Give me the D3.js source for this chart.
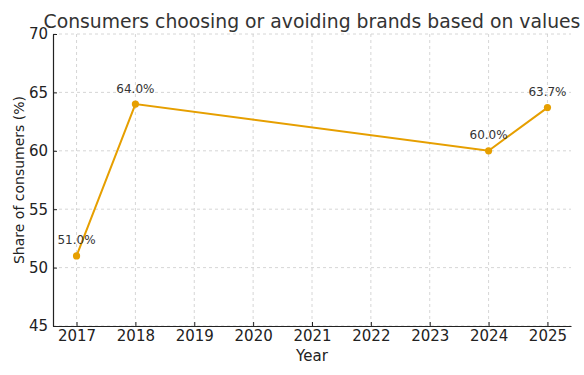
<!DOCTYPE html>
<html><head><meta charset="utf-8">
<script src="https://cdn.jsdelivr.net/npm/d3@7"></script>
<style>body{margin:0;background:#fff}svg{display:block}text{font-family:"DejaVu Sans",sans-serif}</style>
</head><body><svg id="c" width="584" height="375"></svg>
<script>
const years = [2017, 2018, 2024, 2025];
const values = [51.0, 64.0, 60.0, 63.7];
const xTicks = [2017, 2018, 2019, 2020, 2021, 2022, 2023, 2024, 2025];
const yTicks = [45, 50, 55, 60, 65, 70];
const title = "Consumers choosing or avoiding brands based on values";
const color = "#E69F00";

const svg = d3.select("#c");
const m = {l: 53, r: 13, t: 34, b: 49};
const W = 584, H = 375;
const x = d3.scaleLinear().domain([2016.6, 2025.4]).range([m.l, W - m.r]);
const y = d3.scaleLinear().domain([45, 70]).range([H - m.b, m.t]);

// grid
const g = svg.append("g");
g.selectAll(".gx").data(xTicks).enter().append("line")
  .attr("x1", d => x(d)).attr("x2", d => x(d)).attr("y1", m.t).attr("y2", H - m.b)
  .attr("stroke", "#cccccc").attr("stroke-width", 0.8).attr("stroke-dasharray", "3,3");
g.selectAll(".gy").data(yTicks).enter().append("line")
  .attr("x1", m.l).attr("x2", W - m.r).attr("y1", d => y(d)).attr("y2", d => y(d))
  .attr("stroke", "#cccccc").attr("stroke-width", 0.8).attr("stroke-dasharray", "3,3");

// axes
const xa = svg.append("g").attr("transform", `translate(0,${H - m.b})`)
  .call(d3.axisBottom(x).tickValues(xTicks).tickFormat(d3.format("d")).tickSizeInner(-4).tickSizeOuter(0).tickPadding(4));
const ya = svg.append("g").attr("transform", `translate(${m.l},0)`)
  .call(d3.axisLeft(y).tickValues(yTicks).tickSizeInner(-4).tickSizeOuter(0).tickPadding(5));
[xa, ya].forEach(a => {
  a.select(".domain").attr("stroke", "#222").attr("stroke-width", 1.2);
  a.selectAll(".tick line").attr("stroke", "#222");
  a.selectAll(".tick text").attr("font-size", 15).attr("fill", "#222").attr("font-family", "DejaVu Sans, sans-serif");
});

// line
svg.append("path").datum(years.map((d, i) => [d, values[i]]))
  .attr("fill", "none").attr("stroke", color).attr("stroke-width", 2)
  .attr("d", d3.line().x(d => x(d[0])).y(d => y(d[1])));
svg.selectAll(".pt").data(years).enter().append("circle")
  .attr("cx", d => x(d)).attr("cy", (d, i) => y(values[i])).attr("r", 3.6).attr("fill", color);
svg.selectAll(".lb").data(years).enter().append("text")
  .attr("x", d => x(d)).attr("y", (d, i) => y(values[i]) - 11.5)
  .attr("text-anchor", "middle").attr("font-size", 12).attr("fill", "#333")
  .text((d, i) => values[i].toFixed(1) + "%");

// titles
svg.append("text").attr("x", (m.l + W - m.r) / 2).attr("y", 28).attr("text-anchor", "middle")
  .attr("font-size", 18.8).attr("fill", "#333").text(title);
svg.append("text").attr("x", (m.l + W - m.r) / 2).attr("y", 361).attr("text-anchor", "middle")
  .attr("font-size", 15).attr("fill", "#222").text("Year");
svg.append("text").attr("transform", `translate(24,${(m.t + H - m.b) / 2}) rotate(-90)`)
  .attr("text-anchor", "middle").attr("font-size", 14).attr("fill", "#222").text("Share of consumers (%)");
</script></body></html>
